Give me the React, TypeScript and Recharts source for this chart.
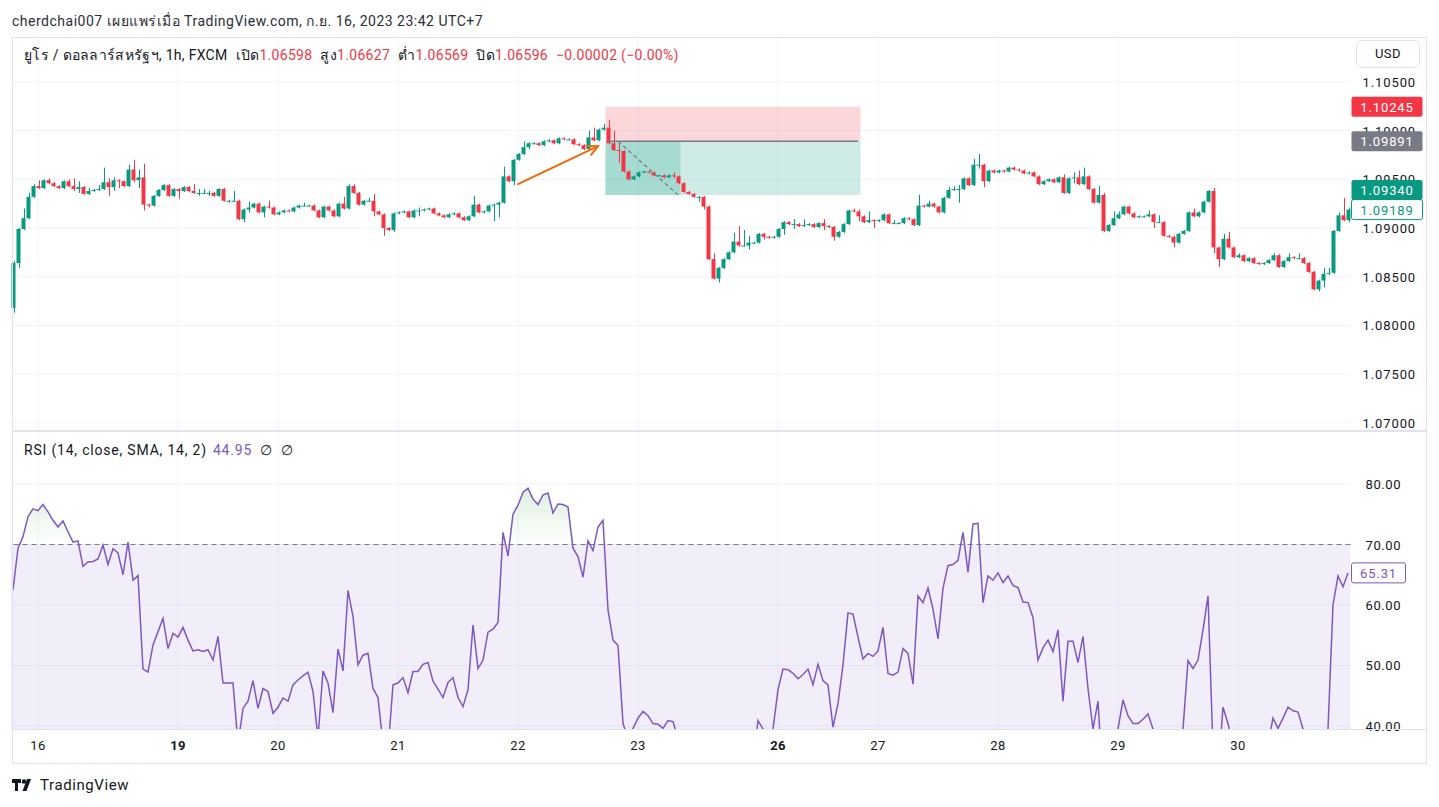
import React from 'react';
import { ComposedChart, Bar, Line, Area, XAxis, YAxis, CartesianGrid, ReferenceLine, ReferenceArea } from 'recharts';

// EUR/USD 1h (FXCM). Prices are kept in pips above 1.08000.
const BASE = 1.08;
const firstOpen = 18;

const closes = [
  64, 99, 110, 132, 143, 141, 149, 146, 143, 141,
  148, 143, 140, 142, 135, 138, 139, 140, 147, 142,
  149, 148, 143, 160, 149, 152, 124, 123, 133, 139,
  144, 133, 140, 138, 142, 138, 136, 136, 136, 136,
  133, 140, 128, 128, 128, 109, 119, 121, 125, 116,
  122, 121, 114, 116, 118, 117, 121, 123, 123, 123,
  118, 111, 122, 118, 112, 125, 120, 143, 136, 124,
  128, 128, 117, 114, 100, 98, 115, 116, 117, 111,
  118, 118, 119, 120, 115, 113, 111, 114, 115, 111,
  108, 112, 124, 116, 117, 123, 124, 126, 153, 148,
  170, 176, 183, 187, 187, 185, 189, 190, 187, 192,
  191, 191, 186, 185, 181, 193, 190, 201, 203, 187,
  180, 179, 158, 150, 153, 157, 158, 157, 154, 154,
  152, 154, 153, 146, 137, 135, 132, 132, 122, 68,
  48, 59, 68, 75, 86, 82, 82, 85, 85, 94,
  91, 90, 91, 99, 106, 104, 104, 102, 103, 104,
  101, 105, 102, 101, 91, 96, 104, 118, 117, 112,
  106, 108, 107, 108, 114, 105, 105, 105, 110, 109,
  103, 123, 122, 125, 122, 116, 131, 139, 140, 140,
  151, 144, 165, 165, 148, 159, 157, 159, 158, 162,
  160, 159, 156, 157, 153, 145, 148, 150, 147, 152,
  136, 151, 152, 145, 153, 140, 126, 134, 97, 103,
  110, 114, 122, 115, 111, 112, 112, 114, 106, 106,
  92, 91, 85, 94, 97, 116, 112, 116, 127, 138,
  80, 68, 89, 80, 70, 72, 66, 69, 64, 63,
  64, 67, 72, 60, 66, 70, 69, 69, 64, 55,
  37, 46, 53, 54, 97, 113, 108, 118.9,
];

// wick lengths above / below the body, in pips
const upperWicks = [
  2, 1, 10, 4, 2, 6, 1, 2, 1, 1,
  1, 2, 8, 6, 1, 3, 1, 4, 15, 4,
  3, 1, 1, 5, 10, 8, 14, 1, 1, 1,
  1, 1, 1, 1, 1, 1, 7, 4, 4, 2,
  1, 1, 1, 1, 10, 1, 1, 6, 1, 1,
  1, 6, 1, 1, 1, 1, 1, 1, 3, 1,
  1, 1, 1, 1, 1, 1, 7, 2, 2, 1,
  1, 3, 7, 1, 1, 1, 1, 1, 1, 1,
  1, 3, 1, 1, 1, 1, 1, 1, 1, 1,
  1, 1, 9, 1, 1, 1, 1, 1, 10, 1,
  1, 1, 6, 1, 1, 1, 1, 1, 1, 1,
  1, 1, 1, 1, 1, 7, 10, 1, 4, 8,
  13, 7, 1, 1, 1, 1, 1, 1, 1, 1,
  1, 1, 3, 1, 1, 1, 1, 1, 1, 1,
  6, 1, 1, 1, 9, 16, 16, 7, 1, 1,
  1, 1, 1, 1, 1, 1, 5, 1, 6, 1,
  1, 1, 4, 1, 1, 1, 1, 1, 2, 2,
  1, 9, 1, 1, 1, 1, 3, 1, 1, 1,
  1, 11, 1, 3, 1, 1, 1, 3, 3, 4,
  1, 1, 6, 11, 1, 1, 1, 1, 1, 1,
  1, 1, 1, 1, 1, 1, 1, 1, 1, 1,
  3, 1, 5, 7, 9, 1, 1, 9, 2, 1,
  7, 3, 1, 1, 1, 1, 1, 4, 1, 7,
  1, 1, 1, 1, 1, 1, 4, 1, 1, 1,
  3, 1, 5, 7, 1, 2, 1, 1, 1, 1,
  1, 1, 2, 1, 1, 4, 1, 5, 1, 1,
  1, 1, 6, 5, 1, 3, 18, 2,
];

const lowerWicks = [
  5, 5, 1, 1, 1, 1, 1, 1, 1, 1,
  1, 1, 2, 4, 1, 1, 1, 1, 1, 9,
  4, 7, 1, 1, 2, 8, 6, 2, 1, 1,
  1, 1, 1, 8, 1, 1, 1, 3, 1, 3,
  1, 1, 1, 2, 1, 1, 3, 3, 1, 1,
  5, 1, 1, 1, 1, 1, 1, 1, 1, 1,
  1, 1, 1, 1, 1, 1, 1, 1, 1, 1,
  1, 1, 5, 1, 8, 1, 2, 1, 1, 1,
  1, 6, 1, 1, 1, 1, 1, 1, 1, 1,
  1, 1, 1, 1, 1, 1, 16, 13, 1, 1,
  4, 1, 1, 2, 1, 1, 1, 1, 1, 1,
  1, 1, 1, 1, 1, 1, 1, 1, 1, 1,
  1, 12, 1, 1, 1, 1, 1, 1, 1, 1,
  1, 1, 2, 1, 1, 1, 1, 5, 3, 1,
  1, 4, 1, 1, 1, 1, 1, 4, 1, 1,
  3, 1, 1, 1, 6, 1, 5, 1, 1, 1,
  1, 1, 4, 1, 4, 1, 1, 1, 1, 5,
  1, 1, 7, 1, 1, 1, 1, 1, 1, 1,
  1, 1, 1, 1, 1, 1, 1, 1, 1, 14,
  1, 1, 1, 4, 6, 1, 1, 1, 1, 1,
  1, 1, 1, 1, 1, 1, 1, 1, 1, 1,
  1, 1, 5, 1, 1, 1, 1, 1, 1, 1,
  1, 1, 1, 1, 1, 1, 1, 1, 6, 1,
  1, 1, 5, 1, 1, 1, 1, 1, 1, 1,
  6, 8, 1, 1, 1, 1, 1, 1, 1, 1,
  1, 1, 1, 1, 1, 1, 1, 1, 1, 1,
  1, 2, 7, 1, 1, 1, 1, 2,
];

const rsiValues = [
  62.5, 69.4, 71.3, 74.6, 75.9, 75.6, 76.6, 75.4, 74.0, 72.9,
  73.9, 72.1, 70.4, 70.6, 66.4, 67.1, 67.2, 67.6, 69.9, 66.7,
  69.3, 68.6, 65.0, 70.4, 64.1, 64.9, 49.4, 48.9, 53.4, 55.6,
  57.8, 52.8, 55.3, 54.7, 56.3, 54.2, 52.4, 52.6, 52.3, 52.6,
  50.9, 54.8, 47.1, 47.1, 47.1, 37.0, 42.9, 44.1, 47.5, 42.9,
  46.2, 45.7, 42.1, 43.1, 44.6, 44.1, 46.8, 47.6, 48.3, 48.9,
  45.7, 38.0, 49.1, 47.1, 42.2, 52.7, 49.1, 62.4, 58.1, 50.1,
  51.7, 52.0, 46.2, 44.7, 37.0, 36.0, 46.8, 47.1, 48.0, 45.5,
  49.0, 49.0, 50.2, 50.5, 47.4, 46.1, 44.7, 47.2, 48.0, 44.7,
  43.2, 46.0, 56.7, 49.5, 50.9, 55.5, 56.0, 57.1, 72.0, 68.1,
  75.0, 76.5, 78.6, 79.3, 77.5, 76.6, 78.2, 78.5, 75.2, 76.7,
  76.6, 76.2, 69.4, 68.0, 64.6, 70.6, 69.0, 72.9, 74.0, 59.2,
  54.2, 53.3, 40.4, 38.0, 39.6, 41.3, 42.4, 41.7, 40.4, 40.3,
  39.6, 40.9, 40.7, 38.0, 34.0, 33.0, 31.0, 31.0, 27.0, 15.0,
  12.0, 20.0, 25.0, 28.0, 33.0, 32.0, 32.0, 34.0, 34.0, 40.9,
  39.5, 38.0, 39.5, 46.0, 49.4, 49.3, 48.7, 47.8, 48.5, 49.4,
  46.8, 50.2, 47.5, 46.8, 39.8, 43.7, 50.1, 58.7, 58.5, 54.7,
  51.1, 52.0, 51.5, 52.4, 56.3, 48.7, 48.4, 48.9, 52.8, 52.0,
  46.9, 61.5, 60.4, 62.8, 59.3, 54.4, 62.8, 66.5, 66.7, 67.4,
  72.0, 65.4, 73.4, 73.5, 60.4, 64.8, 64.1, 65.3, 63.7, 64.8,
  63.2, 62.9, 60.5, 60.4, 57.9, 50.9, 52.9, 54.2, 52.3, 55.9,
  44.1, 54.0, 54.0, 50.5, 54.8, 46.2, 39.5, 44.1, 30.0, 32.0,
  35.0, 39.5, 44.3, 41.7, 40.4, 40.4, 41.1, 42.0, 39.5, 37.0,
  33.0, 33.0, 31.0, 36.0, 39.5, 50.8, 49.5, 50.9, 55.9, 61.5,
  36.0, 32.0, 43.1, 40.4, 37.0, 38.0, 36.0, 37.0, 35.0, 35.0,
  36.0, 37.0, 41.3, 39.6, 41.3, 43.1, 42.5, 42.3, 39.5, 36.0,
  30.0, 33.0, 35.0, 39.5, 60.0, 64.8, 63.0, 65.31,
];

const dayLabels = [
  { bar: 5, text: '16' },
  { bar: 33, text: '19', bold: true },
  { bar: 53, text: '20' },
  { bar: 77, text: '21' },
  { bar: 101, text: '22' },
  { bar: 125, text: '23' },
  { bar: 153, text: '26', bold: true },
  { bar: 173, text: '27' },
  { bar: 197, text: '28' },
  { bar: 221, text: '29' },
  { bar: 245, text: '30' },
];
const dayBars = dayLabels.map((d) => d.bar);

const priceGrid = [-100, -50, 0, 50, 100, 150, 200, 250];
const rsiGrid = [40, 50, 60, 70, 80];

// long position tool
const stopLoss = 224.5;
const entry = 189.1;
const target = 134;
const posStart = 119;
const posEnd = 169;
const posFilledEnd = 133;

const priceTags = [
  { v: stopLoss, bg: '#F23645', color: '#fff', shift: 0 },
  { v: entry, bg: '#787B86', color: '#fff', shift: 0 },
  { v: 118.9, bg: '#fff', color: '#089981', border: '#089981', shift: 0 },
  { v: target, bg: '#089981', color: '#fff', shift: -5 },
];
const rsiLast = 65.31;

const rows = closes.map((c, i) => {
  const open = i === 0 ? firstOpen : closes[i - 1];
  const high = Math.max(open, c) + upperWicks[i];
  const low = Math.min(open, c) - lowerWicks[i];
  const r = rsiValues[i];
  return { i, open, close: c, high, low, range: [low, high], rsi: r, ob: [70, Math.max(70, r)] };
});

const UP = '#089981';
const DOWN = '#F23645';
const GRID = '#f0f3fa';
const TEXT = '#131722';
const FONT = 'Roboto, "Noto Sans", "DejaVu Sans", sans-serif';

const PRICE_DOMAIN = [-107.4, 296.1];
const fmtPrice = (v: number) => (BASE + v / 10000).toFixed(5);

const Candle = (props: any) => {
  const { x, y, width, height, payload } = props;
  if (!payload) return <g />;
  const { open, close, high, low } = payload;
  const color = close >= open ? UP : DOWN;
  const k = height / Math.max(high - low, 1e-6);
  const yOf = (v: number) => y + (high - v) * k;
  const top = yOf(Math.max(open, close));
  const h = Math.max(1, Math.abs(yOf(open) - yOf(close)));
  const cx = Math.round(x + width / 2) + 0.5;
  return (
    <g>
      <line x1={cx} x2={cx} y1={y} y2={y + height} stroke={color} strokeWidth={1} />
      <rect x={x} y={top} width={width} height={h} fill={color} />
    </g>
  );
};

const PriceTick = (props: any) => {
  const { x, y, payload } = props;
  return (
    <text x={x + 12} y={y + 5} fontSize={13} letterSpacing={0.9} fill={TEXT} fontFamily={FONT}>
      {fmtPrice(payload.value)}
    </text>
  );
};

const RsiTick = (props: any) => {
  const { x, y, payload } = props;
  return (
    <text x={x + 15} y={y + 5} fontSize={13} letterSpacing={0.6} fill={TEXT} fontFamily={FONT}>
      {payload.value.toFixed(2)}
    </text>
  );
};

// coloured price tag on the scale, drawn at the right end of a reference line
const Tag = (props: any) => {
  const { viewBox, bg, color, border, shift, w, text } = props;
  if (!viewBox) return <g />;
  const x = viewBox.x + viewBox.width;
  const y = viewBox.y + (shift || 0);
  return (
    <g>
      <rect x={x + 1} y={y - 10} width={w} height={20} rx={2} fill={bg} stroke={border || 'none'} strokeWidth={1} />
      <text x={x + 1 + w / 2} y={y + 5} textAnchor="middle" fontSize={13} letterSpacing={0.9} fill={color} fontFamily={FONT}>
        {text}
      </text>
    </g>
  );
};

const DayTick = (props: any) => {
  const { x, y, payload } = props;
  const d = dayLabels.find((l) => l.bar === payload.value);
  if (!d) return <g />;
  return (
    <text x={x} y={y + 21} textAnchor="middle" fontSize={13} letterSpacing={0.4} fill={TEXT} fontFamily={FONT}
      fontWeight={d.bold ? 700 : 400}>
      {d.text}
    </text>
  );
};

const ArrowShape = (props: any) => {
  const { x1, y1, x2, y2 } = props;
  if (x1 == null) return <g />;
  const a = Math.atan2(y2 - y1, x2 - x1);
  const L = 11;
  const h1 = { x: x2 - L * Math.cos(a - 0.45), y: y2 - L * Math.sin(a - 0.45) };
  const h2 = { x: x2 - L * Math.cos(a + 0.45), y: y2 - L * Math.sin(a + 0.45) };
  return (
    <g stroke="#F0660A" strokeWidth={2} fill="none" strokeLinecap="round">
      <line x1={x1} y1={y1} x2={x2} y2={y2} />
      <polyline points={`${h1.x},${h1.y} ${x2},${y2} ${h2.x},${h2.y}`} />
    </g>
  );
};

const CHART_W = 1426;
const AXIS_W = 75.5;
const LEFT = 10.5;

function PriceChart() {
  return (
    <ComposedChart width={CHART_W} height={393} data={rows} margin={{ top: 0, right: 0, bottom: 0, left: LEFT }}>
      <CartesianGrid stroke={GRID} horizontalValues={priceGrid} verticalValues={dayBars} />
      <XAxis dataKey="i" type="category" scale="band" hide interval={0} />
      <YAxis
        orientation="right"
        type="number"
        domain={PRICE_DOMAIN}
        allowDataOverflow
        width={AXIS_W}
        ticks={priceGrid}
        interval={0}
        tick={PriceTick}
        tickLine={false}
        axisLine={false}
        tickSize={0}
        tickMargin={0}
      />
      <ReferenceArea x1={posStart} x2={posEnd} y1={entry} y2={stopLoss} fill="#F23645" fillOpacity={0.2} stroke="none" />
      <ReferenceArea x1={posStart} x2={posEnd} y1={target} y2={entry} fill="#089981" fillOpacity={0.2} stroke="none" />
      <ReferenceArea x1={posStart} x2={posFilledEnd} y1={target} y2={entry} fill="#089981" fillOpacity={0.2} stroke="none" />
      <Bar dataKey="range" barSize={4} shape={Candle} isAnimationActive={false} />
      <ReferenceLine segment={[{ x: posStart, y: entry }, { x: posEnd, y: entry }]} stroke="#787B86" strokeWidth={1.5} />
      <ReferenceLine
        segment={[{ x: 121, y: entry }, { x: 133, y: target }]}
        stroke="#787B86"
        strokeWidth={1.2}
        strokeDasharray="4 3"
      />
      <ReferenceLine segment={[{ x: 101, y: 145 }, { x: 117, y: 184 }]} shape={ArrowShape} />
    </ComposedChart>
  );
}

// same scales as the price pane, only the tags on the price scale (kept above the tick labels)
function PriceTags() {
  return (
    <ComposedChart width={CHART_W} height={393} data={rows} margin={{ top: 0, right: 0, bottom: 0, left: LEFT }}>
      <XAxis dataKey="i" type="category" scale="band" hide />
      <YAxis
        orientation="right"
        type="number"
        domain={PRICE_DOMAIN}
        allowDataOverflow
        width={AXIS_W}
        tick={false}
        tickLine={false}
        axisLine={false}
      />
      {priceTags.map((t) => (
        <ReferenceLine
          key={t.v}
          y={t.v}
          stroke="none"
          label={(p: any) => <Tag {...p} {...t} w={71} text={fmtPrice(t.v)} />}
        />
      ))}
    </ComposedChart>
  );
}

function RsiChart() {
  return (
    <ComposedChart width={CHART_W} height={330} data={rows} margin={{ top: 0, right: 0, bottom: 0, left: LEFT }}>
      <defs>
        <linearGradient id="obFill" x1="0" y1="0" x2="0" y2="1">
          <stop offset="0%" stopColor="#4CAF50" stopOpacity={0.32} />
          <stop offset="100%" stopColor="#4CAF50" stopOpacity={0} />
        </linearGradient>
      </defs>
      <CartesianGrid stroke={GRID} horizontalValues={rsiGrid} verticalValues={dayBars} />
      <XAxis
        dataKey="i"
        type="category"
        scale="band"
        height={33}
        interval={0}
        tick={DayTick}
        tickLine={false}
        axisLine={false}
        tickSize={0}
        tickMargin={0}
      />
      <YAxis
        orientation="right"
        type="number"
        domain={[39.5, 88.6]}
        allowDataOverflow
        width={AXIS_W}
        ticks={rsiGrid}
        interval={0}
        tick={RsiTick}
        tickLine={false}
        axisLine={false}
        tickSize={0}
        tickMargin={0}
      />
      <ReferenceArea y1={30} y2={70} fill="#7E57C2" fillOpacity={0.1} stroke="none" ifOverflow="hidden" />
      <ReferenceLine y={70} stroke="#787B86" strokeDasharray="5 4" />
      <Area dataKey="ob" stroke="none" fill="url(#obFill)" isAnimationActive={false} />
      <Line dataKey="rsi" stroke="#7E57C2" strokeWidth={1.5} dot={false} isAnimationActive={false} />
      <ReferenceLine
        y={rsiLast}
        stroke="none"
        label={(p: any) => <Tag {...p} bg="#fff" color="#7E57C2" border="#7E57C2" w={54} text={rsiLast.toFixed(2)} />}
      />
    </ComposedChart>
  );
}

const red = { color: '#F23645' };
const gap = { marginLeft: 8 };

export default function App() {
  return (
    <div style={{ position: 'relative', width: 1439, height: 807, background: '#fff', fontFamily: FONT, color: TEXT, overflow: 'hidden' }}>
      <style>{'body{margin:0}'}</style>
      <div style={{ position: 'absolute', left: 12, top: 10, fontSize: 14, letterSpacing: 0.5, color: '#2a2e39', whiteSpace: 'nowrap' }}>
        cherdchai007 เผยแพร่เมื่อ TradingView.com, ก.ย. 16, 2023 23:42 UTC+7
      </div>

      <div style={{ position: 'absolute', left: 0, top: 37 }}>
        <PriceChart />
      </div>
      <div style={{ position: 'absolute', left: 0, top: 37, pointerEvents: 'none' }}>
        <PriceTags />
      </div>
      <div style={{ position: 'absolute', left: 0, top: 432 }}>
        <RsiChart />
      </div>

      {/* frame and separators */}
      <div style={{ position: 'absolute', left: 12, top: 37, width: 1415, height: 727, border: '1px solid #e0e3eb', boxSizing: 'border-box', pointerEvents: 'none' }} />
      <div style={{ position: 'absolute', left: 12, top: 430, width: 1415, height: 2, background: '#e0e3eb' }} />
      <div style={{ position: 'absolute', left: 12, top: 729, width: 1415, height: 1, background: '#e0e3eb' }} />

      <div style={{ position: 'absolute', left: 24, top: 44, fontSize: 14, letterSpacing: 0.3, whiteSpace: 'nowrap' }}>
        <span>ยูโร / ดอลลาร์สหรัฐฯ, 1h, FXCM</span>
        <span style={gap}>เปิด</span><span style={red}>1.06598</span>
        <span style={gap}>สูง</span><span style={red}>1.06627</span>
        <span style={gap}>ต่ำ</span><span style={red}>1.06569</span>
        <span style={gap}>ปิด</span><span style={red}>1.06596</span>
        <span style={{ ...red, ...gap }}>−0.00002 (−0.00%)</span>
      </div>
      <div style={{ position: 'absolute', left: 24, top: 442, fontSize: 14, letterSpacing: 0.8, whiteSpace: 'nowrap' }}>
        <span>RSI (14, close, SMA, 14, 2)</span>
        <span style={{ color: '#7E57C2', marginLeft: 6 }}>44.95</span>
        <span style={{ marginLeft: 8 }}>∅</span>
        <span style={{ marginLeft: 8 }}>∅</span>
      </div>

      <div style={{ position: 'absolute', left: 1356, top: 40, width: 64, height: 28, border: '1px solid #e0e3eb', borderRadius: 6, boxSizing: 'border-box', fontSize: 13, letterSpacing: 0.5, lineHeight: '26px', textAlign: 'center', background: '#fff' }}>
        USD
      </div>

      <div style={{ position: 'absolute', left: 12, top: 776, display: 'flex', alignItems: 'center', gap: 4 }}>
        <svg width={24} height={14} viewBox="0 0 24 14">
          <path d="M0 1h9v4H6v8H3V5H0z" fill={TEXT} />
          <circle cx={12} cy={3.5} r={2.2} fill={TEXT} />
          <path d="M15 1h4l-4.5 12h-4z" fill={TEXT} />
        </svg>
        <span style={{ fontSize: 15, letterSpacing: 0.6, color: TEXT }}>TradingView</span>
      </div>
    </div>
  );
}
